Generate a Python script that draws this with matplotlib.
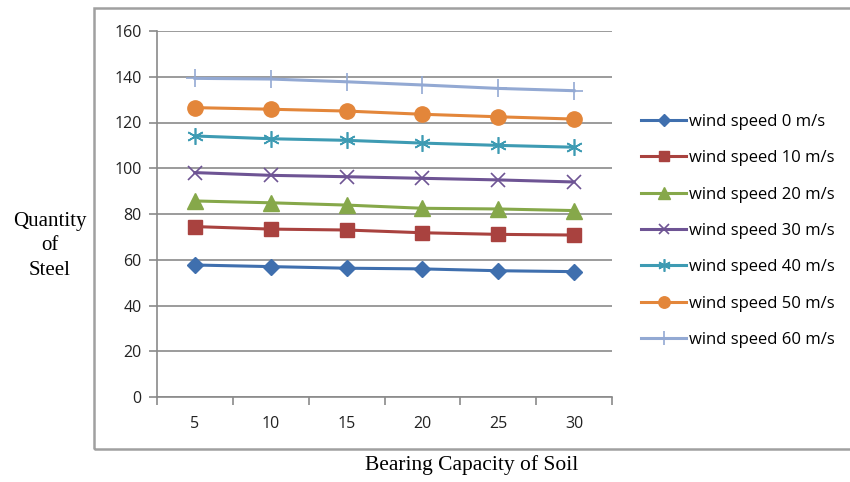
import numpy as np
import matplotlib.pyplot as plt
from matplotlib.patches import Rectangle

# bearing capacity categories and steel quantity per wind speed
capacity = [5, 10, 15, 20, 25, 30]
ws0 = [57.7, 57.0, 56.3, 56.0, 55.2, 54.8]
ws10 = [74.5, 73.4, 73.0, 71.8, 71.1, 70.8]
ws20 = [85.7, 84.9, 83.9, 82.5, 82.2, 81.5]
ws30 = [98.1, 96.9, 96.3, 95.6, 94.9, 94.0]
ws40 = [114.1, 112.9, 112.2, 111.0, 110.0, 109.2]
ws50 = [126.5, 125.8, 125.0, 123.6, 122.5, 121.5]
ws60 = [139.3, 139.0, 137.8, 136.4, 134.9, 133.9]
labels = ["wind speed 0 m/s", "wind speed 10 m/s", "wind speed 20 m/s",
          "wind speed 30 m/s", "wind speed 40 m/s", "wind speed 50 m/s",
          "wind speed 60 m/s"]

styles = [
    dict(color="#3F6FAE", marker="D", ms=8),
    dict(color="#A9423F", marker="s", ms=10),
    dict(color="#86A84A", marker="^", ms=11),
    dict(color="#6E5494", marker="x", ms=10, mew=1.2),
    dict(color="#3E9BB3", marker=(6, 2, 0), ms=12, mew=1.2),
    dict(color="#E3863A", marker="o", ms=11),
    dict(color="#93A9D3", marker="+", ms=13, mew=1.2),
]

grey = "#8A8A8A"
fig = plt.figure(figsize=(8.5, 4.82), dpi=100)
ax = fig.add_axes([157 / 850, 1 - 397 / 482, 455 / 850, 366 / 482])

# outer chart frame
fig.patches.append(Rectangle((94 / 850, 1 - 449 / 482), 1.0, 441 / 482,
                             transform=fig.transFigure, fill=False,
                             edgecolor="#A0A0A0", lw=1.8, zorder=0))

x = np.arange(len(capacity)) + 0.5
series = [ws0, ws10, ws20, ws30, ws40, ws50, ws60]
for vals, lab, st in zip(series, labels, styles):
    st = dict(st)
    ax.plot(x, vals, lw=2.2, label=lab, color=st.pop("color"), **st)

ax.set_xlim(0, 6)
ax.set_ylim(0, 160)
ax.set_yticks(np.arange(0, 161, 20))
ax.yaxis.grid(True, color=grey, lw=1.2)
ax.set_axisbelow(True)

ax.set_xticks(np.arange(0, 7))
ax.set_xticklabels([])
ax.set_xticks(x, minor=True)
ax.set_xticklabels([str(c) for c in capacity], minor=True)
ax.tick_params(axis="x", which="minor", length=0, pad=14)
ax.tick_params(axis="x", which="major", length=6, color=grey, width=1.2)
ax.tick_params(axis="y", length=6, color=grey, width=1.2, pad=5)
for lab in ax.get_xticklabels(minor=True) + ax.get_yticklabels():
    lab.set_fontfamily("Open Sans")
    lab.set_fontsize(11.5)
    lab.set_color("#222222")

for side in ["top", "right"]:
    ax.spines[side].set_visible(False)
for side in ["left", "bottom"]:
    ax.spines[side].set_color(grey)
    ax.spines[side].set_linewidth(1.2)

fig.text(50 / 850, 1 - 246 / 482, "Quantity\nof\nSteel", ha="center",
         va="center", family="Liberation Serif", fontsize=15,
         linespacing=1.4)
fig.text(472 / 850, 1 - 465 / 482, "Bearing Capacity of Soil", ha="center",
         va="center", family="Liberation Serif", fontsize=15.5)

leg = fig.legend(loc="upper left", bbox_to_anchor=(626 / 850, 1 - 99 / 482),
                 frameon=False, handlelength=2.7, handletextpad=0.2,
                 labelspacing=1.22, prop=dict(family="Open Sans", size=12))
for h in leg.legend_handles:
    h.set_markersize(h.get_markersize() * 0.75)

fig.savefig("out.png", dpi=100)
